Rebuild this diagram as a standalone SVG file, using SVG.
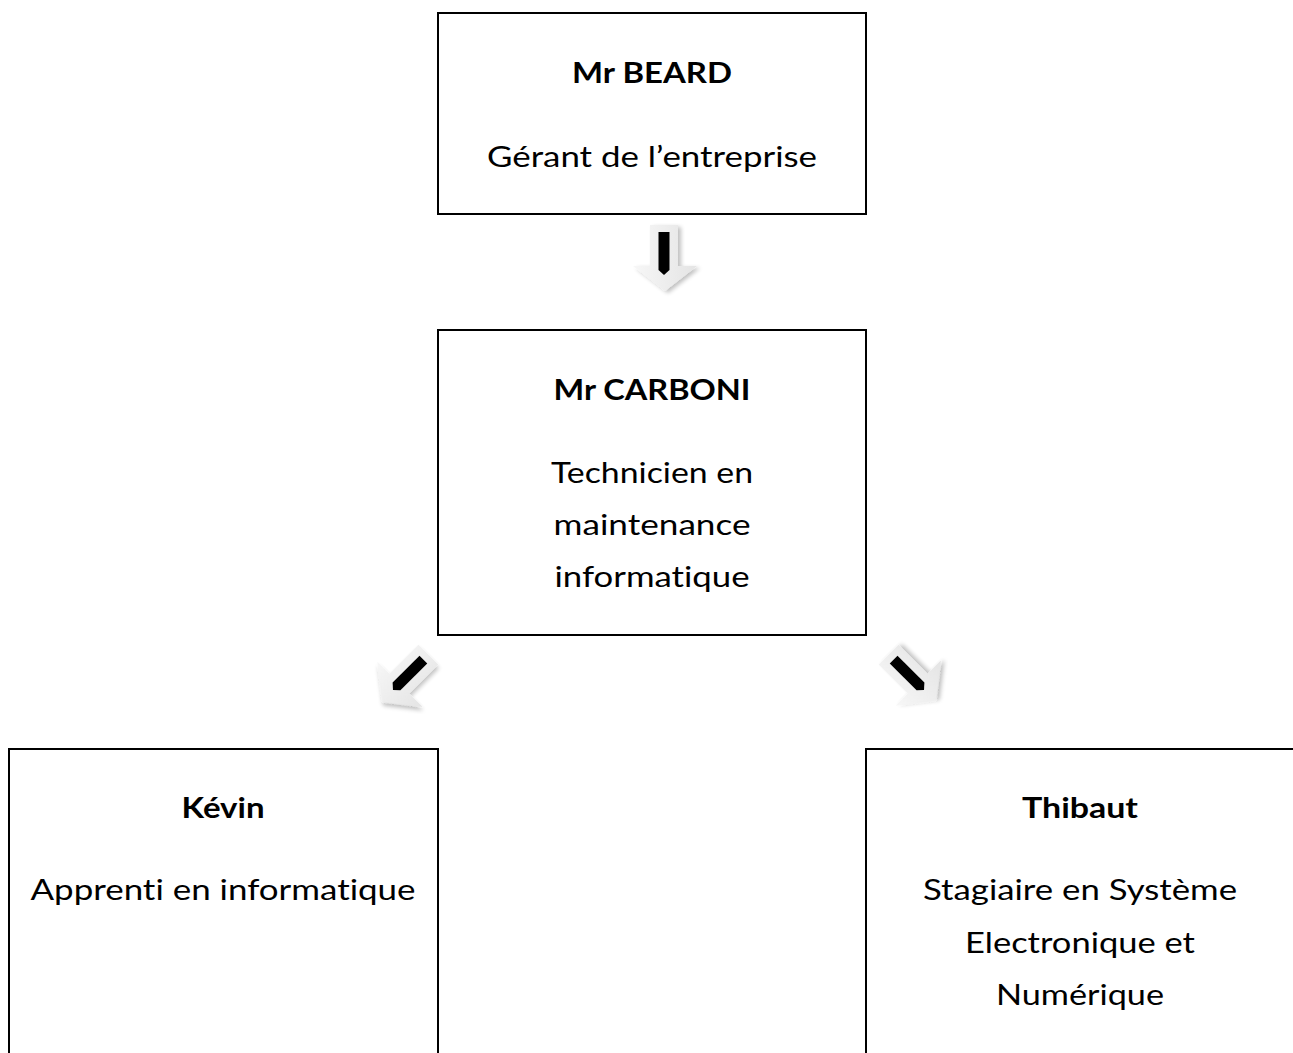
<svg xmlns="http://www.w3.org/2000/svg" width="1293" height="1053" viewBox="0 0 1293 1053">
<style>
.box{fill:#fff;stroke:#000;stroke-width:2}
.t{font-family:Lato,"Open Sans","Liberation Sans",sans-serif;font-size:29px;fill:#000;text-anchor:middle;font-variant-ligatures:none}
.b{font-weight:bold}
</style>
<defs>
<linearGradient id="ag" x1="0" y1="0" x2="1" y2="0">
<stop offset="0" stop-color="#f7f7f7"/>
<stop offset="1" stop-color="#e4e4e4"/>
</linearGradient>
<filter id="sh" x="-50%" y="-50%" width="200%" height="200%">
<feGaussianBlur in="SourceAlpha" stdDeviation="2"/>
<feOffset dx="3" dy="2" result="o"/>
<feComponentTransfer><feFuncA type="linear" slope="0.25"/></feComponentTransfer>
<feMerge><feMergeNode/><feMergeNode in="SourceGraphic"/></feMerge>
</filter>
<g id="arrow">
<path d="M-14,-33 L14,-33 L14,8 L33,8 L1,33 L-31,8 L-14,8 Z" fill="url(#ag)" filter="url(#sh)"/>
<path d="M-5.5,-26 L5.5,-26 L5.5,12 L0,17 L-5.5,12 Z" fill="#000"/>
</g>
</defs>
<rect width="1293" height="1053" fill="#fff"/>
<g id="connectors">
<use href="#arrow" transform="translate(664,258)"/>
<use href="#arrow" transform="translate(405,678) rotate(45)"/>
<use href="#arrow" transform="translate(912,678) rotate(-45)"/>
</g>
<g id="node-beard">
<rect class="box" x="438" y="13" width="428" height="201"/>
<text class="t b" x="652" y="83" textLength="160" lengthAdjust="spacingAndGlyphs">Mr BEARD</text>
<text class="t" x="652" y="167" textLength="330" lengthAdjust="spacingAndGlyphs">Gérant de l’entreprise</text>
</g>
<g id="node-carboni">
<rect class="box" x="438" y="330" width="428" height="305"/>
<text class="t b" x="652" y="400" textLength="197" lengthAdjust="spacingAndGlyphs">Mr CARBONI</text>
<text class="t" x="652" y="483" textLength="202" lengthAdjust="spacingAndGlyphs">Technicien en</text>
<text class="t" x="652" y="535" textLength="197" lengthAdjust="spacingAndGlyphs">maintenance</text>
<text class="t" x="652" y="587" textLength="195" lengthAdjust="spacingAndGlyphs">informatique</text>
</g>
<g id="node-kevin">
<rect class="box" x="9" y="749" width="429" height="330"/>
<text class="t b" x="223" y="818" textLength="83" lengthAdjust="spacingAndGlyphs">Kévin</text>
<text class="t" x="223" y="900" textLength="385" lengthAdjust="spacingAndGlyphs">Apprenti en informatique</text>
</g>
<g id="node-thibaut">
<rect class="box" x="866" y="749" width="430" height="330"/>
<text class="t b" x="1080" y="818" textLength="116" lengthAdjust="spacingAndGlyphs">Thibaut</text>
<text class="t" x="1080" y="900" textLength="314" lengthAdjust="spacingAndGlyphs">Stagiaire en Système</text>
<text class="t" x="1080" y="953" textLength="230" lengthAdjust="spacingAndGlyphs">Electronique et</text>
<text class="t" x="1080" y="1005" textLength="168" lengthAdjust="spacingAndGlyphs">Numérique</text>
</g>
</svg>
